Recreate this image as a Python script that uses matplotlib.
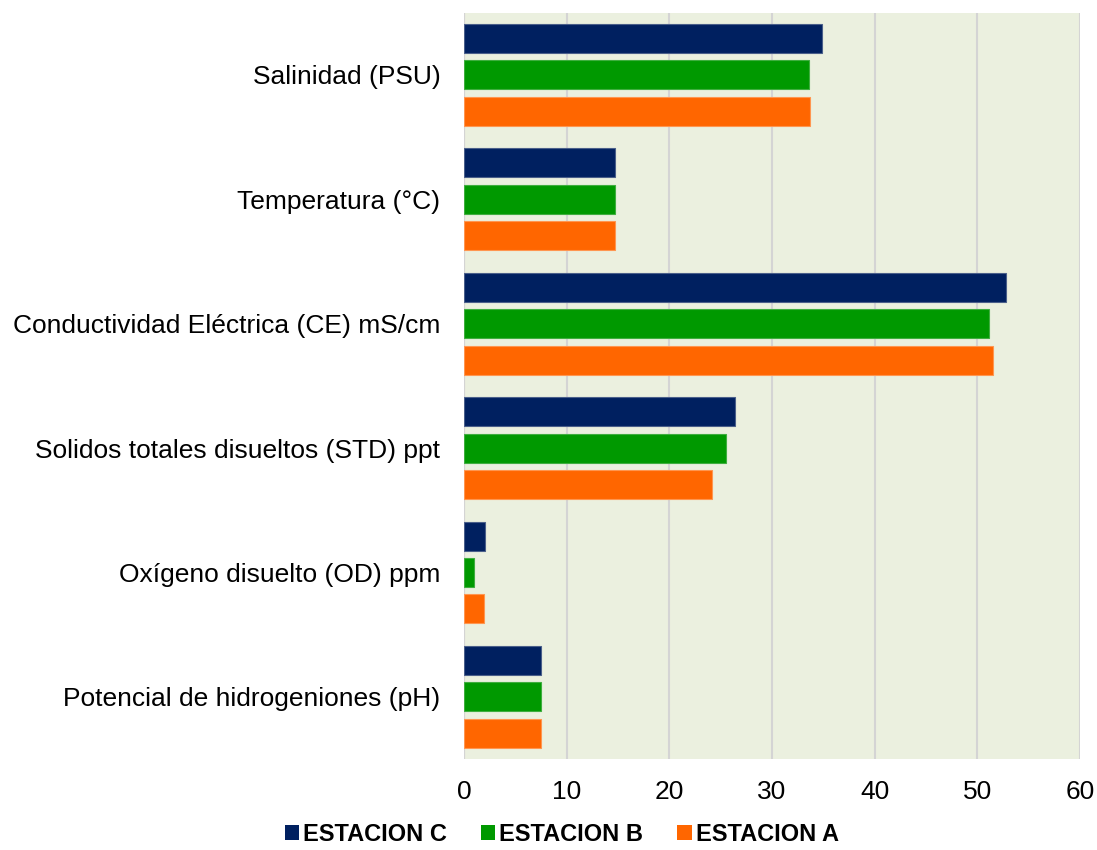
import numpy as np
import matplotlib.pyplot as plt
from matplotlib.patches import Patch

plt.rcParams['font.family'] = ['Liberation Sans', 'DejaVu Sans']

categories = ['Salinidad (PSU)', 'Temperatura (°C)', 'Conductividad Eléctrica (CE) mS/cm',
              'Solidos totales disueltos (STD) ppt', 'Oxígeno disuelto (OD) ppm',
              'Potencial de hidrogeniones (pH)']
estacion_c = [34.9, 14.7, 52.8, 26.4, 2.0, 7.5]
estacion_b = [33.6, 14.7, 51.1, 25.5, 1.0, 7.5]
estacion_a = [33.7, 14.7, 51.5, 24.2, 1.9, 7.5]

series = [('ESTACION C', estacion_c, '#002060', '#4a5f8a'),
          ('ESTACION B', estacion_b, '#009900', '#3fae3f'),
          ('ESTACION A', estacion_a, '#FF6600', '#ff9650')]

fig = plt.figure(figsize=(10.97, 8.5), dpi=100)
ax = fig.add_axes([0.423, 0.107, 0.5615, 0.878])
ax.set_facecolor('#EBF0DF')

y = np.arange(len(categories))
step = 0.293
height = 0.233
for i, (name, vals, col, edge) in enumerate(series):
    ax.barh(y + (i - 1) * step, vals, height=height, color=col,
            edgecolor=edge, linewidth=0.8, label=name, zorder=3)

ax.set_xlim(0, 60)
ax.set_ylim(len(categories) - 0.5, -0.5)
ax.set_xticks(range(0, 61, 10))
ax.set_yticks(y)
ax.set_yticklabels(categories, fontsize=19)
ax.tick_params(axis='x', labelsize=19, length=0, pad=15)
ax.tick_params(axis='y', length=0, pad=17)
ax.grid(axis='x', color='#d4d4d4', linewidth=1.5, zorder=0)
for s in ax.spines.values():
    s.set_visible(False)
ax.axvline(0, color='#d4d4d4', linewidth=1.5, zorder=1)

handles = [Patch(facecolor=c, label=n) for n, _, c, _ in series]
fig.legend(handles=handles, loc='lower center', bbox_to_anchor=(0.512, -0.02), ncol=3,
           frameon=False, prop={'weight': 'bold', 'size': 17},
           handlelength=0.6, handleheight=0.6, handletextpad=0.17, columnspacing=1.45)

fig.savefig('out.png', dpi=100)
